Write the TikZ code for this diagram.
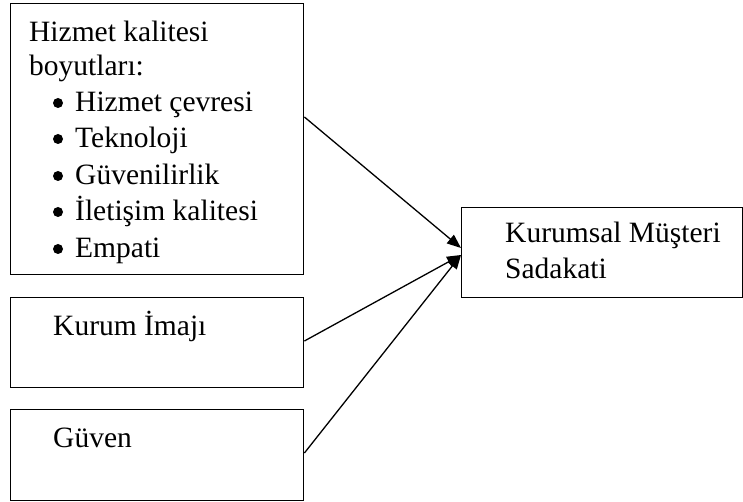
\documentclass[tikz,border=0pt]{standalone}
\usepackage{fontspec}
\setmainfont{Liberation Serif}
\usetikzlibrary{arrows.meta}
\begin{document}
\begin{tikzpicture}[x=1pt,y=-1pt,
  frame/.style={draw,line width=1.4pt,rectangle,anchor=north west,inner sep=0pt},
  lbl/.style={anchor=base west,inner sep=0pt,font=\fontsize{29.5}{35}\selectfont},
  dot/.style={circle,fill,inner sep=0pt,minimum size=10pt},
  link/.style={line width=1.3pt,-{Triangle[length=14pt,width=11pt]}}]
\useasboundingbox (0,0) rectangle (743,502);

% boxes
\node[frame,minimum width=293pt,minimum height=271pt] (dims) at (10,3) {};
\node[frame,minimum width=293pt,minimum height=90pt] (image) at (10,297) {};
\node[frame,minimum width=293pt,minimum height=91pt] (trust) at (10,409) {};
\node[frame,minimum width=281pt,minimum height=90pt] (loyal) at (461,207) {};

% service quality dimensions
\node[lbl] (t1) at (29,42) {Hizmet kalitesi};
\node[lbl] (t2) at (29,76) {boyutları:};
\node[dot] (b1) at (58,103) {};
\node[lbl] (i1) at (75,112) {Hizmet çevresi};
\node[dot] (b2) at (58,139) {};
\node[lbl] (i2) at (75,148) {Teknoloji};
\node[dot] (b3) at (58,176) {};
\node[lbl] (i3) at (75,185) {Güvenilirlik};
\node[dot] (b4) at (58,212) {};
\node[lbl] (i4) at (75,221) {İletişim kalitesi};
\node[dot] (b5) at (58,249) {};
\node[lbl] (i5) at (75,258) {Empati};

% other inputs and the outcome
\node[lbl] (t3) at (53,335) {Kurum İmajı};
\node[lbl] (t4) at (53,447) {Güven};
\node[lbl] (t5) at (505,243) {Kurumsal Müşteri};
\node[lbl] (t6) at (505,279) {Sadakati};

% connector end points on the box borders
\coordinate (s1) at (dims.east |- 0,117);
\coordinate (s2) at (image.east |- 0,341);
\coordinate (s3) at (trust.east |- 0,453);
\coordinate (e1) at (loyal.west |- 0,248);
\coordinate (e2) at (loyal.west |- 0,255);

\draw[link] (s1) -- (e1);
\draw[link] (s2) -- (e2);
\draw[link] (s3) -- (e2);
\end{tikzpicture}
\end{document}
